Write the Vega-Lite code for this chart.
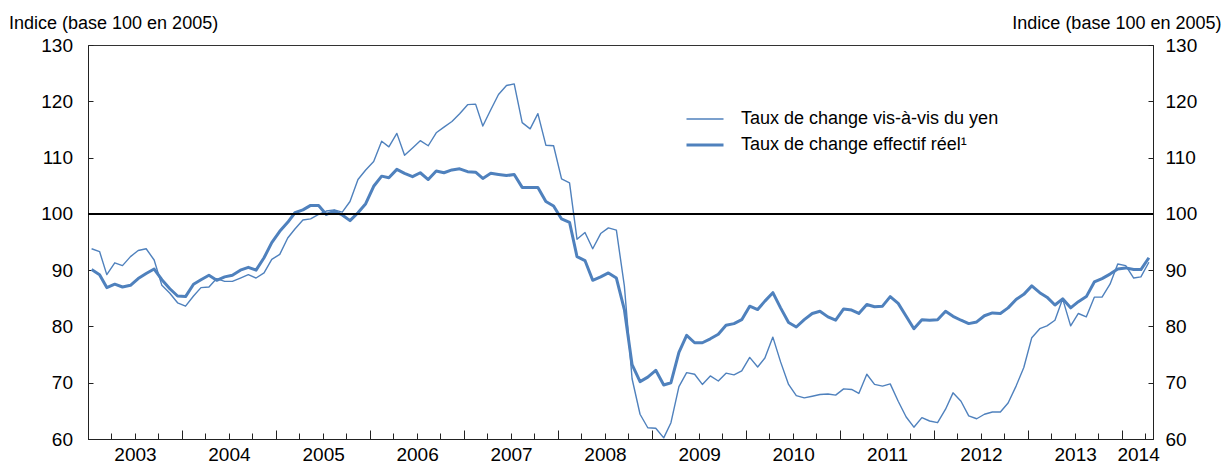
{
  "$schema": "https://vega.github.io/schema/vega-lite/v6.json",
  "width": 1065,
  "height": 394,
  "autosize": {"type": "none"},
  "padding": {"left": 88, "top": 45, "right": 76, "bottom": 24},
  "background": "white",
  "config": {
    "font": "Liberation Sans",
    "view": {"stroke": "#333", "strokeWidth": 1},
    "axis": {
      "domainColor": "#222", "tickColor": "#222", "labelColor": "#000", "titleColor": "#000",
      "labelFont": "Liberation Sans", "titleFont": "Liberation Sans",
      "labelFontSize": 19, "titleFontSize": 18, "titleFontWeight": "normal",
      "grid": false, "domainWidth": 1, "tickWidth": 1
    }
  },
  "data": {
    "values": [
      {"d": "2003/01/15", "reer": 90.1, "yen": 93.8},
      {"d": "2003/02/15", "reer": 89.2, "yen": 93.3},
      {"d": "2003/03/15", "reer": 86.9, "yen": 89.2},
      {"d": "2003/04/15", "reer": 87.5, "yen": 91.3},
      {"d": "2003/05/15", "reer": 87.0, "yen": 90.8},
      {"d": "2003/06/15", "reer": 87.3, "yen": 92.4},
      {"d": "2003/07/15", "reer": 88.5, "yen": 93.5},
      {"d": "2003/08/15", "reer": 89.4, "yen": 93.8},
      {"d": "2003/09/15", "reer": 90.2, "yen": 91.8},
      {"d": "2003/10/15", "reer": 88.3, "yen": 87.3},
      {"d": "2003/11/15", "reer": 86.7, "yen": 85.9},
      {"d": "2003/12/15", "reer": 85.4, "yen": 84.2},
      {"d": "2004/01/15", "reer": 85.3, "yen": 83.6},
      {"d": "2004/02/15", "reer": 87.5, "yen": 85.4},
      {"d": "2004/03/15", "reer": 88.3, "yen": 86.9},
      {"d": "2004/04/15", "reer": 89.1, "yen": 87.0},
      {"d": "2004/05/15", "reer": 88.2, "yen": 88.5},
      {"d": "2004/06/15", "reer": 88.8, "yen": 88.0},
      {"d": "2004/07/15", "reer": 89.1, "yen": 88.0},
      {"d": "2004/08/15", "reer": 90.0, "yen": 88.6},
      {"d": "2004/09/15", "reer": 90.5, "yen": 89.2},
      {"d": "2004/10/15", "reer": 90.0, "yen": 88.6},
      {"d": "2004/11/15", "reer": 92.2, "yen": 89.5},
      {"d": "2004/12/15", "reer": 94.9, "yen": 91.9},
      {"d": "2005/01/15", "reer": 96.9, "yen": 92.8},
      {"d": "2005/02/15", "reer": 98.5, "yen": 95.7},
      {"d": "2005/03/15", "reer": 100.2, "yen": 97.3},
      {"d": "2005/04/15", "reer": 100.7, "yen": 98.9},
      {"d": "2005/05/15", "reer": 101.5, "yen": 99.1},
      {"d": "2005/06/15", "reer": 101.5, "yen": 99.9},
      {"d": "2005/07/15", "reer": 99.9, "yen": 100.5},
      {"d": "2005/08/15", "reer": 100.5, "yen": 100.7},
      {"d": "2005/09/15", "reer": 99.8, "yen": 100.3},
      {"d": "2005/10/15", "reer": 98.8, "yen": 102.2},
      {"d": "2005/11/15", "reer": 100.2, "yen": 106.1},
      {"d": "2005/12/15", "reer": 101.8, "yen": 107.8},
      {"d": "2006/01/15", "reer": 104.9, "yen": 109.3},
      {"d": "2006/02/15", "reer": 106.7, "yen": 112.9},
      {"d": "2006/03/15", "reer": 106.4, "yen": 111.9},
      {"d": "2006/04/15", "reer": 107.9, "yen": 114.3},
      {"d": "2006/05/15", "reer": 107.2, "yen": 110.4},
      {"d": "2006/06/15", "reer": 106.6, "yen": 111.7},
      {"d": "2006/07/15", "reer": 107.3, "yen": 113.0},
      {"d": "2006/08/15", "reer": 106.1, "yen": 112.1},
      {"d": "2006/09/15", "reer": 107.6, "yen": 114.4},
      {"d": "2006/10/15", "reer": 107.3, "yen": 115.4},
      {"d": "2006/11/15", "reer": 107.8, "yen": 116.4},
      {"d": "2006/12/15", "reer": 108.0, "yen": 117.8},
      {"d": "2007/01/15", "reer": 107.5, "yen": 119.4},
      {"d": "2007/02/15", "reer": 107.4, "yen": 119.5},
      {"d": "2007/03/15", "reer": 106.3, "yen": 115.6},
      {"d": "2007/04/15", "reer": 107.2, "yen": 118.5},
      {"d": "2007/05/15", "reer": 107.0, "yen": 121.2},
      {"d": "2007/06/15", "reer": 106.8, "yen": 122.8},
      {"d": "2007/07/15", "reer": 107.0, "yen": 123.1},
      {"d": "2007/08/15", "reer": 104.7, "yen": 116.2},
      {"d": "2007/09/15", "reer": 104.7, "yen": 115.1},
      {"d": "2007/10/15", "reer": 104.7, "yen": 117.8},
      {"d": "2007/11/15", "reer": 102.2, "yen": 112.2},
      {"d": "2007/12/15", "reer": 101.4, "yen": 112.1},
      {"d": "2008/01/15", "reer": 99.1, "yen": 106.2},
      {"d": "2008/02/15", "reer": 98.5, "yen": 105.5},
      {"d": "2008/03/15", "reer": 92.4, "yen": 95.5},
      {"d": "2008/04/15", "reer": 91.7, "yen": 96.7},
      {"d": "2008/05/15", "reer": 88.2, "yen": 93.8},
      {"d": "2008/06/15", "reer": 88.8, "yen": 96.5},
      {"d": "2008/07/15", "reer": 89.5, "yen": 97.5},
      {"d": "2008/08/15", "reer": 88.6, "yen": 97.1},
      {"d": "2008/09/15", "reer": 83.0, "yen": 87.2},
      {"d": "2008/10/15", "reer": 73.2, "yen": 70.7},
      {"d": "2008/11/15", "reer": 70.2, "yen": 64.4},
      {"d": "2008/12/15", "reer": 71.0, "yen": 62.0},
      {"d": "2009/01/15", "reer": 72.2, "yen": 61.9},
      {"d": "2009/02/15", "reer": 69.6, "yen": 60.2},
      {"d": "2009/03/15", "reer": 70.0, "yen": 62.9},
      {"d": "2009/04/15", "reer": 75.4, "yen": 69.3},
      {"d": "2009/05/15", "reer": 78.4, "yen": 71.8},
      {"d": "2009/06/15", "reer": 77.1, "yen": 71.5},
      {"d": "2009/07/15", "reer": 77.1, "yen": 69.7},
      {"d": "2009/08/15", "reer": 77.8, "yen": 71.2},
      {"d": "2009/09/15", "reer": 78.6, "yen": 70.3},
      {"d": "2009/10/15", "reer": 80.2, "yen": 71.7},
      {"d": "2009/11/15", "reer": 80.5, "yen": 71.4},
      {"d": "2009/12/15", "reer": 81.2, "yen": 72.1},
      {"d": "2010/01/15", "reer": 83.6, "yen": 74.5},
      {"d": "2010/02/15", "reer": 83.0, "yen": 72.8},
      {"d": "2010/03/15", "reer": 84.5, "yen": 74.4},
      {"d": "2010/04/15", "reer": 86.0, "yen": 78.1},
      {"d": "2010/05/15", "reer": 83.3, "yen": 73.7},
      {"d": "2010/06/15", "reer": 80.7, "yen": 69.7},
      {"d": "2010/07/15", "reer": 79.9, "yen": 67.7},
      {"d": "2010/08/15", "reer": 81.2, "yen": 67.3},
      {"d": "2010/09/15", "reer": 82.3, "yen": 67.6},
      {"d": "2010/10/15", "reer": 82.7, "yen": 67.9},
      {"d": "2010/11/15", "reer": 81.7, "yen": 68.0},
      {"d": "2010/12/15", "reer": 81.1, "yen": 67.8},
      {"d": "2011/01/15", "reer": 83.1, "yen": 68.9},
      {"d": "2011/02/15", "reer": 82.9, "yen": 68.8},
      {"d": "2011/03/15", "reer": 82.3, "yen": 68.1},
      {"d": "2011/04/15", "reer": 83.9, "yen": 71.5},
      {"d": "2011/05/15", "reer": 83.5, "yen": 69.7},
      {"d": "2011/06/15", "reer": 83.6, "yen": 69.4},
      {"d": "2011/07/15", "reer": 85.3, "yen": 69.8},
      {"d": "2011/08/15", "reer": 84.1, "yen": 66.7},
      {"d": "2011/09/15", "reer": 81.8, "yen": 63.9},
      {"d": "2011/10/15", "reer": 79.6, "yen": 62.1},
      {"d": "2011/11/15", "reer": 81.2, "yen": 63.8},
      {"d": "2011/12/15", "reer": 81.1, "yen": 63.2},
      {"d": "2012/01/15", "reer": 81.2, "yen": 62.9},
      {"d": "2012/02/15", "reer": 82.7, "yen": 65.3},
      {"d": "2012/03/15", "reer": 81.8, "yen": 68.2},
      {"d": "2012/04/15", "reer": 81.1, "yen": 66.7},
      {"d": "2012/05/15", "reer": 80.5, "yen": 64.1},
      {"d": "2012/06/15", "reer": 80.8, "yen": 63.6},
      {"d": "2012/07/15", "reer": 81.9, "yen": 64.4},
      {"d": "2012/08/15", "reer": 82.4, "yen": 64.8},
      {"d": "2012/09/15", "reer": 82.3, "yen": 64.8},
      {"d": "2012/10/15", "reer": 83.3, "yen": 66.4},
      {"d": "2012/11/15", "reer": 84.8, "yen": 69.4},
      {"d": "2012/12/15", "reer": 85.7, "yen": 72.7},
      {"d": "2013/01/15", "reer": 87.2, "yen": 78.0},
      {"d": "2013/02/15", "reer": 86.0, "yen": 79.6},
      {"d": "2013/03/15", "reer": 85.2, "yen": 80.1},
      {"d": "2013/04/15", "reer": 83.8, "yen": 81.1},
      {"d": "2013/05/15", "reer": 84.9, "yen": 84.9},
      {"d": "2013/06/15", "reer": 83.3, "yen": 80.1},
      {"d": "2013/07/15", "reer": 84.4, "yen": 82.3},
      {"d": "2013/08/15", "reer": 85.3, "yen": 81.7},
      {"d": "2013/09/15", "reer": 87.9, "yen": 85.2},
      {"d": "2013/10/15", "reer": 88.5, "yen": 85.2},
      {"d": "2013/11/15", "reer": 89.3, "yen": 87.5},
      {"d": "2013/12/15", "reer": 90.2, "yen": 91.1},
      {"d": "2014/01/15", "reer": 90.4, "yen": 90.8},
      {"d": "2014/02/15", "reer": 90.1, "yen": 88.6},
      {"d": "2014/03/15", "reer": 90.1, "yen": 88.8},
      {"d": "2014/04/15", "reer": 92.2, "yen": 91.4}
    ]
  },
  "layer": [
    {
      "transform": [{"fold": ["yen", "reer"], "as": ["s", "v"]}],
      "mark": {"type": "line", "color": "#4F81BD", "strokeJoin": "round"},
      "encoding": {
        "x": {
          "field": "d", "type": "temporal",
          "scale": {"domain": [{"year": 2003, "month": 1, "date": 1}, {"year": 2014, "month": 5, "date": 1}], "nice": false},
          "axis": {"orient": "bottom", "tickCount": {"interval": "month", "step": 3}, "labels": false, "tickSize": -6, "title": null, "domain": true}
        },
        "y": {
          "field": "v", "type": "quantitative",
          "scale": {"domain": [60, 130], "nice": false, "zero": false},
          "axis": {
            "orient": "left", "values": [60, 70, 80, 90, 100, 110, 120, 130], "tickSize": -5, "labelPadding": 20.5,
            "title": "Indice (base 100 en 2005)", "titleAngle": 0, "titleAlign": "left", "titleBaseline": "alphabetic",
            "titleX": -79.5, "titleY": -17
          }
        },
        "strokeWidth": {
          "field": "s", "type": "ordinal",
          "scale": {"domain": ["yen", "reer"], "range": [1.4, 3]},
          "legend": {
            "orient": "none", "legendX": 597, "legendY": 62, "title": null, "padding": 0,
            "symbolType": "stroke", "symbolSize": 1369, "symbolStrokeColor": "#4F81BD",
            "labelFontSize": 18, "labelColor": "#000", "labelFont": "Liberation Sans", "labelOffset": 16,
            "clipHeight": 24, "labelLimit": 400,
            "labelExpr": "datum.value == 'yen' ? 'Taux de change vis-à-vis du yen' : 'Taux de change effectif réel¹'"
          }
        }
      }
    },
    {
      "mark": {"type": "rule", "color": "#000", "strokeWidth": 1.3},
      "encoding": {
        "x": {
          "datum": {"year": 2003, "month": 1, "date": 1}, "type": "temporal",
          "axis": {
            "orient": "bottom", "tickCount": {"interval": "year", "step": 1}, "tickSize": -9, "domain": false,
            "format": "%Y", "labelOffset": {"condition": {"test": "year(datum.value) == 2014", "value": 16}, "value": 47},
            "labelPadding": 15, "labelFlush": false, "labelOverlap": false, "labelBound": false, "title": null
          }
        },
        "x2": {"datum": {"year": 2014, "month": 5, "date": 1}},
        "y": {
          "datum": 100, "type": "quantitative",
          "axis": {
            "orient": "right", "values": [60, 70, 80, 90, 100, 110, 120, 130], "tickSize": -5, "labelPadding": 17,
            "title": "Indice (base 100 en 2005)", "titleAngle": 0, "titleAlign": "right", "titleBaseline": "alphabetic",
            "titleX": 68, "titleY": -17
          }
        }
      }
    }
  ],
  "resolve": {"axis": {"x": "independent", "y": "independent"}}
}
